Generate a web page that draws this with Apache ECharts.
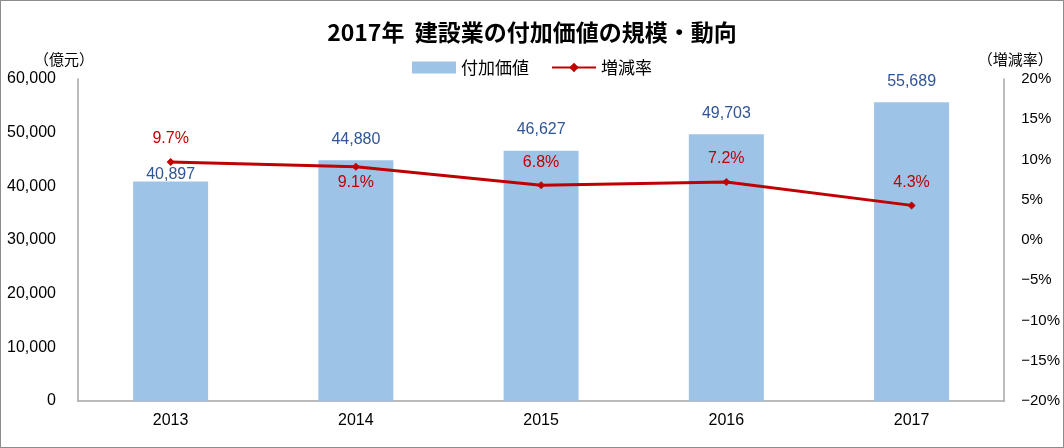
<!DOCTYPE html>
<html><head><meta charset="utf-8">
<script src="https://cdn.jsdelivr.net/npm/echarts@6/dist/echarts.min.js"></script>
<style>html,body{margin:0;padding:0;background:#fff}#c{width:1062px;height:446px;border:1px solid #8c8c8c}</style>
</head><body><div id="c"></div>
<script>
const categories = ['2013','2014','2015','2016','2017'];
const valueAdded = [40897, 44880, 46627, 49703, 55689];
const changeRate = [9.7, 9.1, 6.8, 7.2, 4.3];
const leftTicks = [0, 10000, 20000, 30000, 40000, 50000, 60000];
const rightTicks = [-20, -15, -10, -5, 0, 5, 10, 15, 20];

const font = '"Noto Sans CJK JP", "Noto Sans", sans-serif';
const chart = echarts.init(document.getElementById('c'));
chart.setOption({
  animation: false,
  textStyle: { fontFamily: font },
  title: { text: '2017年  建設業の付加価値の規模・動向', left: 'center', top: 15,
    textStyle: { fontSize: 23, fontWeight: 'bold', color: '#000', fontFamily: font } },
  legend: { top: 53, left: 'center', itemGap: 22, itemWidth: 44, itemHeight: 12,
    textStyle: { fontSize: 17, color: '#000' },
    data: [{ name: '付加価値', icon: 'rect' }, { name: '増減率' }] },
  grid: { left: 77, right: 56, top: 78, bottom: 46, containLabel: false },
  xAxis: { type: 'category', data: categories,
    axisLine: { lineStyle: { color: '#a6a6a6', width: 1.5 } }, axisTick: { show: false },
    axisLabel: { fontSize: 16, color: '#000', margin: 12, fontFamily: '"Liberation Sans", Arial, sans-serif' } },
  yAxis: [
    { type: 'value', min: 0, max: 60000, interval: 10000, name: '（億元）', nameGap: 12,
      nameTextStyle: { fontSize: 15, color: '#000', align: 'center', padding: [0, 0, 0, -28] },
      axisLine: { show: true, lineStyle: { color: '#a6a6a6', width: 1.5 } }, axisTick: { show: false },
      splitLine: { show: false },
      axisLabel: { fontSize: 16, color: '#000', margin: 22, fontFamily: '"Liberation Sans", sans-serif',
        formatter: v => v.toLocaleString('en-US') } },
    { type: 'value', min: -20, max: 20, interval: 5, name: '（増減率）', nameGap: 12,
      nameTextStyle: { fontSize: 15, color: '#000', align: 'center', padding: [0, 0, 0, 22] },
      axisLine: { show: true, lineStyle: { color: '#a6a6a6', width: 1.5 } }, axisTick: { show: false },
      splitLine: { show: false },
      axisLabel: { fontSize: 15, color: '#000', margin: 17, fontFamily: '"Liberation Sans", Arial, sans-serif',
        formatter: v => (v < 0 ? '−' + Math.abs(v) : v) + '%' } }
  ],
  series: [
    { name: '付加価値', type: 'bar', barWidth: 75, itemStyle: { color: '#9dc3e6' },
      data: valueAdded.map((v, i) => ({ value: v,
        label: i === 0 ? { position: 'insideTop', offset: [0, -28] } : {} })),
      label: { show: true, position: 'top', distance: 13, fontSize: 16, color: '#2f5597',
        fontFamily: '"Liberation Sans", sans-serif', formatter: p => p.value.toLocaleString('en-US') } },
    { name: '増減率', type: 'line', yAxisIndex: 1, symbol: 'diamond', symbolSize: 8,
      lineStyle: { color: '#c00000', width: 3 }, itemStyle: { color: '#c00000' },
      data: changeRate.map((v, i) => ({ value: v,
        label: i === 1 ? { position: 'bottom', distance: 4 } : {} })),
      label: { show: true, position: 'top', distance: 11, fontSize: 16, color: '#c00000',
        fontFamily: '"Liberation Sans", sans-serif', formatter: p => p.value.toFixed(1) + '%' } }
  ]
});
</script></body></html>
